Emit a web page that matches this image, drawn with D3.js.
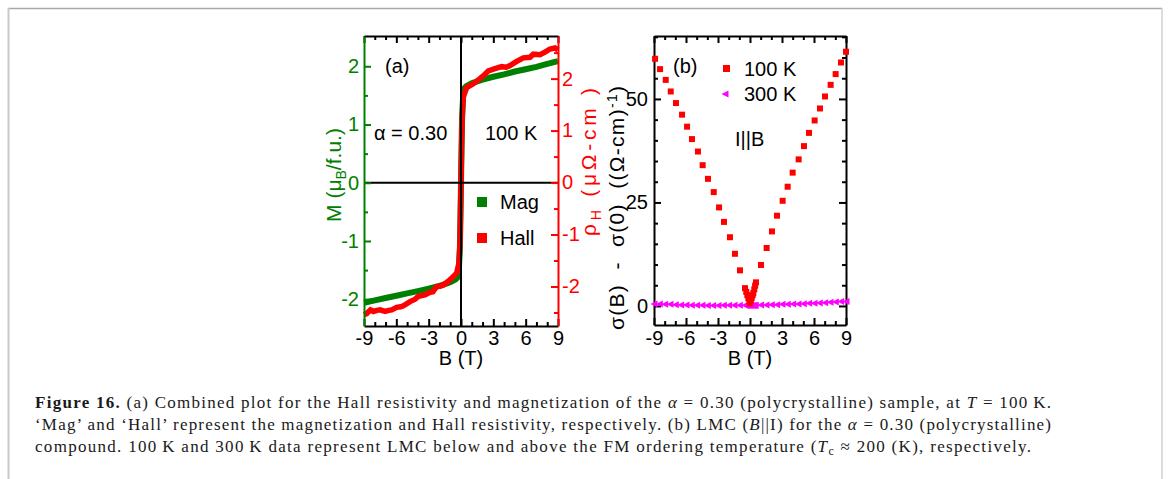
<!DOCTYPE html>
<html><head><meta charset="utf-8">
<script src="https://cdn.jsdelivr.net/npm/d3@7"></script>
<style>body{margin:0;background:#fff}svg{display:block}</style>
</head><body>
<svg id="c" width="1168" height="479"></svg>
<script>
// ---------- data ----------
const fieldTicks = [-9, -6, -3, 0, 3, 6, 9];
const fieldMinor = [-8, -7, -5, -4, -2, -1, 1, 2, 4, 5, 7, 8];
const magTicks = [-2, -1, 0, 1, 2];
const magMinor = [-1.5, -0.5, 0.5, 1.5];
const hallTicks = [-2, -1, 0, 1, 2];
const hallMinor = [-2.5, -1.5, -0.5, 0.5, 1.5, 2.5];
const lmcTicks = [0, 25, 50];
const lmcMinor = [5, 10, 15, 20, 30, 35, 40, 45, 55, 60, 65];

const magB = [-9, -8, -7, -6, -5, -4, -3, -2, -1.5, -1, -0.5, -0.3, -0.2, -0.1, -0.05, 0, 0.05, 0.1, 0.2, 0.3, 0.5, 1, 1.5, 2, 3, 4, 5, 6, 7, 8, 9];
const magM = [-2.06, -2.02, -1.98, -1.94, -1.90, -1.86, -1.82, -1.77, -1.74, -1.71, -1.66, -1.62, -1.5, -1.1, -0.6, 0, 0.6, 1.1, 1.5, 1.62, 1.66, 1.71, 1.74, 1.77, 1.82, 1.86, 1.91, 1.95, 1.99, 2.04, 2.09];

const hallB = [-9, -8.75, -8.4, -8.13, -7.8, -7.51, -7.05, -6.7, -6.43, -5.97, -5.6, -5.35, -4.73, -4.3, -3.96, -3.34, -2.88, -2.6, -2.26, -1.9, -1.64, -1.18, -0.71, -0.4, -0.19, -0.1, -0.05, 0, 0.05, 0.1, 0.2, 0.53, 0.8, 1.14, 1.76, 2.2, 2.54, 3.15, 3.77, 4.2, 4.55, 5.17, 5.78, 6.4, 6.71, 7.33, 7.79, 8.26, 8.72, 9];
const hallR = [-2.54, -2.52, -2.45, -2.48, -2.46, -2.45, -2.48, -2.46, -2.45, -2.40, -2.39, -2.37, -2.29, -2.25, -2.19, -2.16, -2.11, -2.10, -2.0, -1.99, -1.97, -1.9, -1.81, -1.74, -1.55, -1.2, -0.6, 0, 0.6, 1.2, 1.64, 1.83, 1.86, 1.9, 2.0, 2.08, 2.15, 2.19, 2.23, 2.22, 2.25, 2.33, 2.40, 2.41, 2.47, 2.46, 2.51, 2.57, 2.59, 2.55];

const lmc100B = [-8.9, -8.43, -7.9, -7.43, -6.94, -6.37, -5.9, -5.44, -4.88, -4.44, -3.94, -3.4, -2.9, -2.44, -1.88, -1.41, -0.94, -0.47, -0.35, -0.25, -0.15, -0.05, 0, 0.08, 0.16, 0.25, 0.31, 0.4, 0.48, 0.56, 1.03, 1.56, 2.06, 2.53, 3.06, 3.53, 4.0, 4.56, 5.06, 5.53, 6.06, 6.56, 7.03, 7.56, 8.03, 8.53, 9.0];
const lmc100S = [59.7, 57.2, 54.6, 51.8, 49.0, 46.2, 43.3, 40.3, 37.3, 34.0, 30.7, 27.5, 23.8, 20.3, 16.6, 12.6, 8.6, 4.3, 3.4, 2.6, 1.8, 1.0, 0.6, 1.2, 1.9, 2.6, 3.1, 4.0, 4.9, 5.7, 9.9, 14.0, 18.0, 21.8, 25.4, 28.8, 32.2, 35.4, 38.6, 41.8, 44.8, 47.7, 50.6, 53.4, 56.0, 58.8, 61.4];

const lmc300B = [-9, -8.5, -8, -7.5, -7, -6.5, -6, -5.5, -5, -4.5, -4, -3.5, -3, -2.5, -2, -1.5, -1, -0.5, -0.4, -0.3, -0.2, -0.1, 0, 0.1, 0.2, 0.3, 0.4, 0.5, 1, 1.5, 2, 2.5, 3, 3.5, 4, 4.5, 5, 5.5, 6, 6.5, 7, 7.5, 8, 8.5, 9];
const lmc300S = [0.48, 0.48, 0.4, 0.4, 0.32, 0.24, 0.24, 0.16, 0.16, 0.16, 0.08, 0.08, 0.08, 0.16, 0.16, 0.16, 0.16, 0.16, 0.12, 0.1, 0.1, 0.1, 0.1, 0.1, 0.1, 0.1, 0.12, 0.16, 0.24, 0.24, 0.32, 0.32, 0.4, 0.4, 0.48, 0.48, 0.56, 0.64, 0.64, 0.72, 0.8, 0.89, 0.97, 1.05, 1.05];

// ---------- drawing ----------
const svg = d3.select("#c");
const SANS = "Liberation Sans, Arial, sans-serif";
const SERIF = "'Liberation Serif', 'Times New Roman', Times, 'Nimbus Roman', 'DejaVu Serif Condensed', serif";
const GREEN = "#008000", RED = "#ff0000", MAG = "#ff00ff";
const FS = 20;
const fmt = d => String(d);

svg.append("rect").attr("width", 1168).attr("height", 479).attr("fill", "#fff");
// frame
svg.append("line").attr("x1", 8).attr("x2", 1162).attr("y1", 8.5).attr("y2", 8.5).attr("stroke", "#a8a8a8").attr("stroke-width", 1.5);
svg.append("line").attr("x1", 8.5).attr("x2", 8.5).attr("y1", 8).attr("y2", 479).attr("stroke", "#c8c8c8").attr("stroke-width", 2);
svg.append("line").attr("x1", 1162).attr("x2", 1162).attr("y1", 8).attr("y2", 479).attr("stroke", "#d0d0d0").attr("stroke-width", 1.5);

function styleAxis(g, color) {
  g.attr("font-family", null).attr("font-size", null);
  g.select(".domain").attr("stroke", color).attr("stroke-width", 2);
  g.selectAll(".tick line").attr("stroke", color).attr("stroke-width", 2);
  g.selectAll(".tick text").attr("fill", color).style("font-family", SANS).style("font-size", FS + "px");
}
function addAxis(axisFn, scale, tr, major, minor, labels, color, pad) {
  const a = axisFn(scale).tickValues(major).tickSize(-7).tickSizeOuter(0).tickPadding(pad)
    .tickFormat(labels ? fmt : () => "");
  const g = svg.append("g").attr("transform", tr).call(a);
  styleAxis(g, color);
  const m = axisFn(scale).tickValues(minor).tickSize(-4).tickSizeOuter(0).tickFormat(() => "");
  const g2 = svg.append("g").attr("transform", tr).call(m);
  styleAxis(g2, color);
  g2.select(".domain").remove();
  return g;
}

// ===== Panel (a) =====
const xa = d3.scaleLinear([-9, 9], [364, 558]);
const yM = d3.scaleLinear([-2.46, 2.52], [326, 36]);
const yH = d3.scaleLinear([-2.76, 2.82], [326, 36]);

const magLine = d3.line().x((d, i) => xa(magB[i])).y(d => yM(d));
svg.append("path").attr("d", magLine(magM)).attr("fill", "none").attr("stroke", GREEN).attr("stroke-width", 6);
const hallLine = d3.line().x((d, i) => xa(hallB[i])).y(d => yH(d));
svg.append("path").attr("d", hallLine(hallR)).attr("fill", "none").attr("stroke", RED).attr("stroke-width", 5.5);

// zero lines
svg.append("line").attr("x1", xa(0)).attr("x2", xa(0)).attr("y1", 36).attr("y2", 326).attr("stroke", "#000").attr("stroke-width", 2);
svg.append("line").attr("x1", xa(-9)).attr("x2", xa(9)).attr("y1", yM(0)).attr("y2", yM(0)).attr("stroke", "#000").attr("stroke-width", 2);

addAxis(d3.axisBottom, xa, "translate(0,326)", fieldTicks, fieldMinor, true, "#000", 5);
addAxis(d3.axisTop, xa, "translate(0,36)", fieldTicks, fieldMinor, false, "#000", 6);
addAxis(d3.axisLeft, yM, "translate(364,0)", magTicks, magMinor, true, GREEN, 5);
addAxis(d3.axisRight, yH, "translate(558,0)", hallTicks, hallMinor, true, RED, 4);

const T = (x, y, txt, opts = {}) => svg.append("text").attr("x", x).attr("y", y)
  .style("font-family", opts.family || SANS).style("font-size", (opts.size || FS) + "px")
  .attr("fill", opts.fill || "#000").attr("text-anchor", opts.anchor || "start").text(txt);

T(461, 365, "B (T)", { anchor: "middle" });
T(385, 73, "(a)");
T(374, 140, "α = 0.30");
T(485, 140, "100 K");
svg.append("rect").attr("x", 477).attr("y", 197).attr("width", 10).attr("height", 10).attr("fill", GREEN);
T(500, 209, "Mag");
svg.append("rect").attr("x", 477).attr("y", 233).attr("width", 10).attr("height", 10).attr("fill", RED);
T(500, 245, "Hall");

function rotTitle(x, y, len, color) {
  const t = svg.append("text").attr("transform", `translate(${x},${y}) rotate(-90)`).attr("text-anchor", "middle")
    .style("font-family", SANS).style("font-size", "21px").style("white-space", "pre").attr("fill", color);
  if (len) t.attr("textLength", len).attr("lengthAdjust", "spacing");
  return t;
}
// rotated titles
let t = rotTitle(341, 175, 0, GREEN);
t.append("tspan").text("M (μ");
t.append("tspan").style("font-size", "14px").attr("dy", 5).text("B");
t.append("tspan").attr("dy", -5).text("/f.u.)");

t = rotTitle(596, 162, 148, RED);
t.append("tspan").text("ρ");
t.append("tspan").style("font-size", "14px").attr("dy", 5).text("H");
t.append("tspan").attr("dy", -5).text(" (μΩ-cm )");

// ===== Panel (b) =====
const xb = d3.scaleLinear([-9, 9], [654, 846]);
const yb = d3.scaleLinear([-4.6, 65.2], [325, 36]);

addAxis(d3.axisBottom, xb, "translate(0,325)", fieldTicks, fieldMinor, true, "#000", 6);
addAxis(d3.axisTop, xb, "translate(0,36)", fieldTicks, fieldMinor, false, "#000", 6);
addAxis(d3.axisLeft, yb, "translate(654,0)", lmcTicks, lmcMinor, true, "#000", 6);
addAxis(d3.axisRight, yb, "translate(846,0)", lmcTicks, lmcMinor, false, "#000", 6);

const tri = "M-3.5,0L3.5,-3.5L3.5,3.5Z";
svg.append("g").selectAll("path").data(lmc300S).join("path")
  .attr("d", tri).attr("fill", MAG)
  .attr("transform", (d, i) => `translate(${xb(lmc300B[i])},${yb(d)})`);
svg.append("g").selectAll("rect").data(lmc100S).join("rect")
  .attr("x", (d, i) => xb(lmc100B[i]) - 3).attr("y", d => yb(d) - 3)
  .attr("width", 6).attr("height", 6).attr("fill", RED);

T(750, 365, "B (T)", { anchor: "middle" });
T(673, 73, "(b)");
svg.append("rect").attr("x", 723).attr("y", 65).attr("width", 7).attr("height", 7).attr("fill", RED);
T(744, 76, "100 K");
svg.append("path").attr("d", tri).attr("transform", "translate(725,94)").attr("fill", MAG);
T(744, 101, "300 K");
T(735, 146, "I||B");

t = rotTitle(624, 208, 244, "#000");
t.append("tspan").text("σ(B)  -  σ(0)  ((Ω-cm)");
t.append("tspan").style("font-size", "14px").attr("dy", -7).text("-1");
t.append("tspan").attr("dy", 7).text(")");

// ===== Caption =====
function capLine(y, parts, len) {
  const tx = svg.append("text").attr("x", 35).attr("y", y)
    .style("font-family", SERIF).style("font-size", "17px")
    .attr("fill", "#1a1a1a").attr("textLength", len).attr("lengthAdjust", "spacing");
  parts.forEach(p => {
    const s = tx.append("tspan").text(p.t);
    if (p.b) s.style("font-weight", "bold");
    if (p.i) s.style("font-style", "italic");
    if (p.sub) s.style("font-size", "12px").attr("dy", 3);
    if (p.up) s.attr("dy", -3);
  });
}
capLine(408, [
  { t: "Figure 16.", b: true }, { t: " (a) Combined plot for the Hall resistivity and magnetization of the " }, { t: "α", i: true },
  { t: " = 0.30 (polycrystalline) sample, at " }, { t: "T", i: true }, { t: " = 100\u2009K." }
], 1016);
capLine(430, [
  { t: "‘Mag’ and ‘Hall’ represent the magnetization and Hall resistivity, respectively. (b) LMC (" },
  { t: "B", i: true }, { t: "||I) for the " }, { t: "α", i: true }, { t: " = 0.30 (polycrystalline)" }
], 1016);
capLine(452, [
  { t: "compound. 100\u2009K and 300\u2009K data represent LMC below and above the FM ordering temperature (" },
  { t: "T", i: true }, { t: "c", sub: true }, { t: " ≈ 200 (K), respectively.", up: true }
], 996);
</script>
</body></html>
